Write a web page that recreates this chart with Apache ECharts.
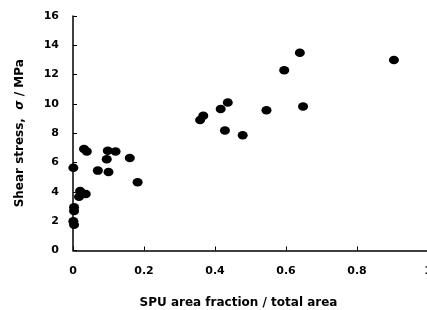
<!DOCTYPE html>
<html><head><meta charset="utf-8">
<script src="https://cdn.jsdelivr.net/npm/echarts@6/dist/echarts.min.js"></script>
<style>html,body{margin:0;padding:0;background:#fff}#c{width:427px;height:310px}</style>
</head><body><div id="c"></div>
<script>
const areaFraction = [0.358,0.367,0.416,0.436,0.428,0.478,0.545,0.595,0.639,0.648,0.904,
  0.031,0.039,0.098,0.12,0.095,0.16,0.001,0.07,0.10,0.182,0.02,0.036,0.017,0.025,0.003,0.003,0.001,0.003];
const shearStress = [8.9,9.2,9.66,10.09,8.18,7.86,9.57,12.3,13.5,9.82,13.0,
  6.93,6.75,6.81,6.75,6.22,6.31,5.65,5.45,5.36,4.66,4.06,3.86,3.67,3.9,2.95,2.7,2.0,1.75];
const xTicks = [0,0.2,0.4,0.6,0.8,1];
const yTicks = [0,2,4,6,8,10,12,14,16];
const xName = 'SPU area fraction / total area';

const font = 'DejaVu Sans';
const chart = echarts.init(document.getElementById('c'));
chart.setOption({
  animation:false,
  grid:{left:73,width:355,top:16,height:234.5,outerBoundsMode:'none',containLabel:false},
  xAxis:{type:'value',min:xTicks[0],max:xTicks[xTicks.length-1],interval:0.2,
    name:xName,nameLocation:'middle',nameGap:46,
    nameTextStyle:{fontFamily:font,fontWeight:'bold',fontSize:12,color:'#000',padding:[0,24,0,0]},
    axisLine:{lineStyle:{color:'#000',width:1.5}},
    axisTick:{inside:true,length:4,lineStyle:{color:'#000'}},
    axisLabel:{fontFamily:font,fontWeight:'bold',fontSize:11,color:'#000',margin:15},
    splitLine:{show:false}},
  yAxis:{type:'value',min:yTicks[0],max:yTicks[yTicks.length-1],interval:2,
    name:'Shear stress,  {i|σ} / MPa',nameLocation:'middle',nameGap:47,
    nameTextStyle:{fontFamily:font,fontWeight:'bold',fontSize:12,color:'#000',
      rich:{i:{fontFamily:font,fontWeight:'bold',fontStyle:'italic',fontSize:12,color:'#000'}}},
    axisLine:{show:true,lineStyle:{color:'#000',width:1.5}},
    axisTick:{show:true,inside:true,length:4,lineStyle:{color:'#000'}},
    axisLabel:{fontFamily:font,fontWeight:'bold',fontSize:11,color:'#000',margin:14},
    splitLine:{show:false}},
  series:[{type:'scatter',clip:false,symbol:'circle',symbolSize:[10,8.5],
    itemStyle:{color:'#000',opacity:1},
    data:areaFraction.map((x,i)=>[x,shearStress[i]])}]
});
</script></body></html>
